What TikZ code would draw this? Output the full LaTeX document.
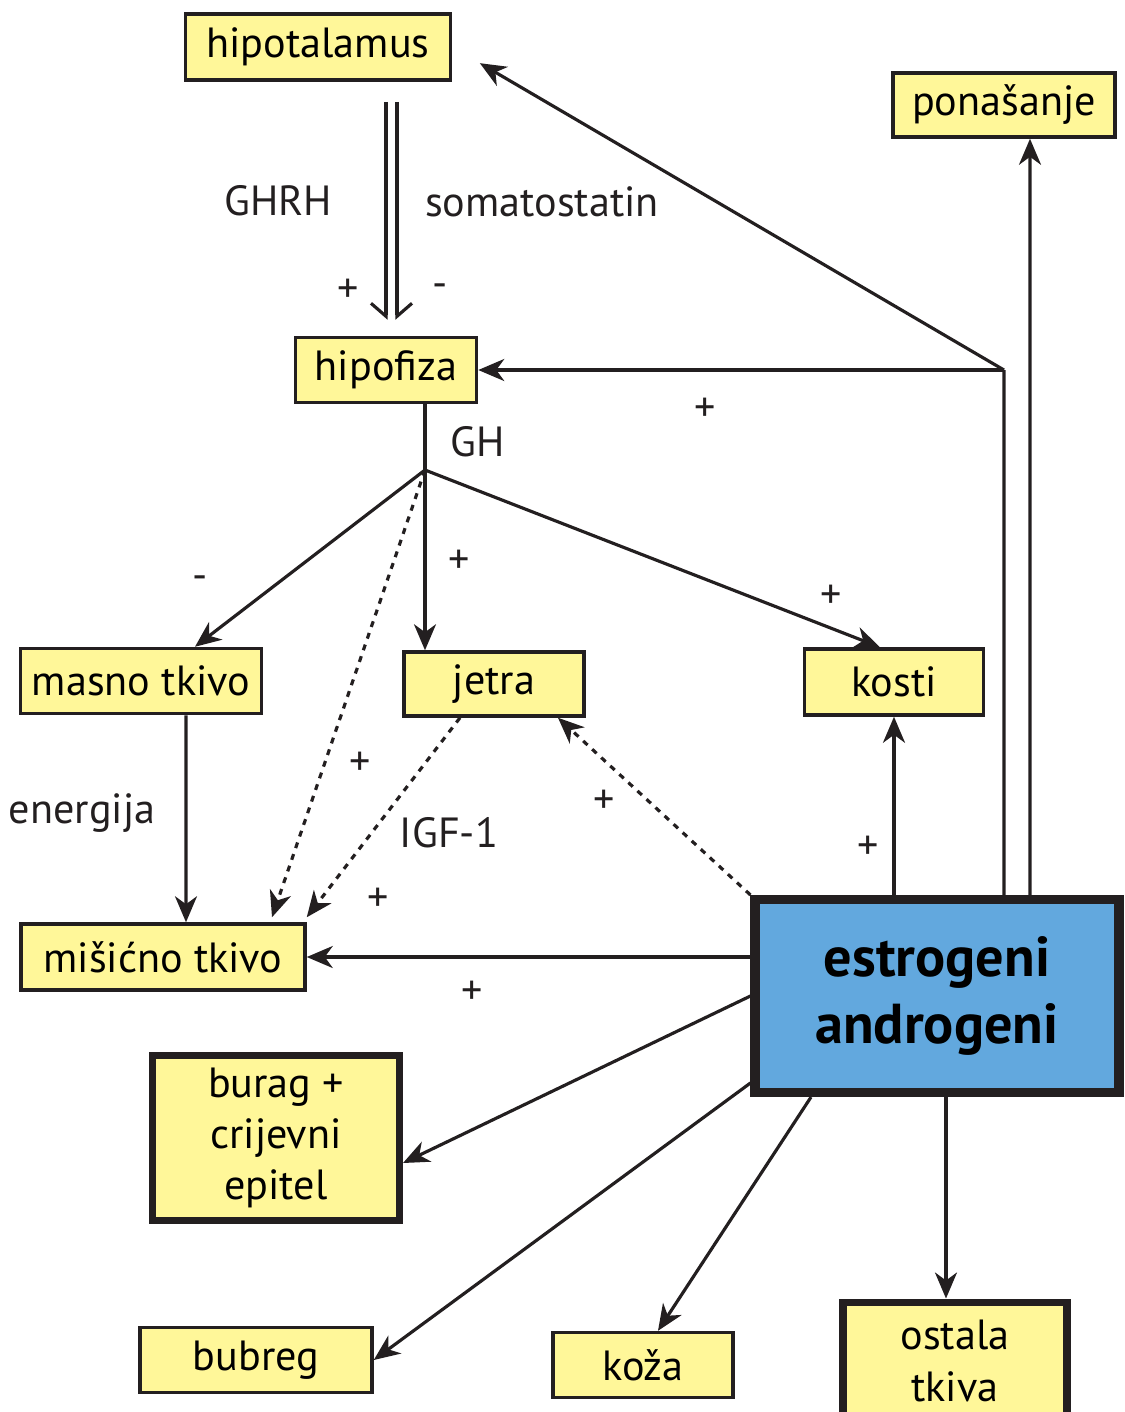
\documentclass[tikz,border=0pt]{standalone}
\usepackage{fontspec}
\setmainfont{PT Sans}
\usetikzlibrary{arrows.meta,positioning}
\definecolor{boxyellow}{RGB}{255,247,153}
\definecolor{boxblue}{RGB}{98,168,222}
\definecolor{inkgray}{RGB}{35,31,32}
\tikzset{
  organ/.style={draw=inkgray,line width=1pt,fill=boxyellow,inner sep=0pt,align=center,font=\fontsize{12}{14.6}\selectfont},
  bigorgan/.style={organ,line width=2pt},
  hormone/.style={organ,fill=boxblue,line width=2.6pt,font=\fontsize{16}{19}\selectfont\bfseries},
  link/.style={draw=inkgray,line width=0.9pt,-{Stealth[length=2.6mm,width=2.2mm,inset=0.8mm]}},
  weak/.style={link,dash pattern=on 1.7pt off 1.8pt},
  barb/.style={draw=inkgray,line width=0.9pt,shorten <=2mm,shorten >=1.6mm},
  lbl/.style={font=\fontsize{12}{14}\selectfont,text=inkgray,inner sep=0pt}
}
\begin{document}
\begin{tikzpicture}[x=0.1mm,y=-0.1mm]
\useasboundingbox (0,0) rectangle (1125,1412);
\clip (0,0) rectangle (1125,1412);
\node[organ,minimum width=26.5mm,minimum height=6.6mm] (hipotalamus) at (318,47) {hipotalamus};
\node[organ,minimum width=22.2mm,minimum height=6.4mm] (ponasanje) at (1004,105) {ponašanje};
\node[organ,minimum width=18.1mm,minimum height=6.5mm] (hipofiza) at (386,370) {hipofiza};
\node[organ,minimum width=24.1mm,minimum height=6.5mm] (masno) at (141,681) {masno tkivo};
\node[organ,minimum width=18mm,minimum height=6.4mm] (jetra) at (494,684) {jetra};
\node[organ,minimum width=17.9mm,minimum height=6.6mm] (kosti) at (894,682) {kosti};
\node[organ,minimum width=28.4mm,minimum height=6.6mm] (misicno) at (163,957) {mišićno tkivo};
\node[hormone,minimum width=36.4mm,minimum height=19.3mm] (hormoni) at (937,996) {estrogeni\\androgeni};
\node[bigorgan,minimum width=24.7mm,minimum height=16.5mm] (burag) at (276,1138) {burag +\\crijevni\\epitel};
\node[organ,minimum width=23.2mm,minimum height=6.5mm] (bubreg) at (256,1360) {bubreg};
\node[organ,minimum width=18mm,minimum height=6.5mm] (koza) at (643,1365) {koža};
\node[bigorgan,minimum width=22.4mm,minimum height=11.8mm] (ostala) at (955,1361) {ostala\\tkiva};
\coordinate (gh) at (425,470);
\coordinate (split) at (1004,370);
\draw[barb,-{Straight Barb[harpoon,swap,length=1.3mm,width=3mm]}] (hipotalamus.south -| hipofiza.north) -- (hipofiza.north);
\draw[barb,-{Straight Barb[harpoon,length=1.3mm,width=3mm]}] ([xshift=1.1mm]hipotalamus.south -| hipofiza.north) -- ([xshift=1.1mm]hipofiza.north);
\draw[draw=inkgray,line width=0.9pt] (hipofiza.south -| gh) -- (gh);
\draw[link] (gh) -- ([xshift=5.4mm]masno.north);
\draw[link] (gh) -- (gh |- jetra.north);
\draw[link] (gh) -- ([xshift=-1.4mm]kosti.north);
\draw[weak] (gh) -- ([xshift=10.9mm,yshift=0.5mm]misicno.north);
\draw[link] ([xshift=4.5mm]masno.south) -- ([xshift=2.3mm]misicno.north);
\draw[weak] ([xshift=-3.4mm]jetra.south) -- ([yshift=0.5mm]misicno.north east);
\draw[weak] (hormoni.north west) -- ([xshift=6.4mm]jetra.south);
\draw[link] (hormoni.north -| kosti.south) -- (kosti.south);
\draw[draw=inkgray,line width=0.9pt] ([xshift=6.7mm]hormoni.north) -- (split);
\draw[link] (split) -- (hipofiza.east);
\draw[link,shorten >=3.2mm] (split) -- (hipotalamus.east);
\draw[link] ([xshift=9.3mm]hormoni.north) -- ([xshift=2.6mm]ponasanje.south);
\draw[link] (hormoni.west |- misicno.east) -- (misicno.east);
\draw[link] (hormoni.west) -- ([yshift=-2.5mm]burag.east);
\draw[link] ([yshift=-8.7mm]hormoni.west) -- (bubreg.east);
\draw[link] ([xshift=-12.6mm]hormoni.south) -- ([xshift=1.5mm]koza.north);
\draw[link] ([xshift=0.9mm]hormoni.south) -- ([xshift=0.9mm]hormoni.south |- ostala.north);
\node[lbl] (ghrh) at (278,201) {GHRH};
\node[lbl] (somato) at (542,202) {somatostatin};
\node[lbl] (plusghrh) at (348,291) {+};
\node[lbl] (minussomato) at (440,291) {-};
\node[lbl] (plushipofiza) at (705,410) {+};
\node[lbl] (ghlbl) at (478,442) {GH};
\node[lbl] (minusmasno) at (200,583) {-};
\node[lbl] (plusjetra) at (459,562) {+};
\node[lbl] (pluskosti) at (831,597) {+};
\node[lbl] (plusghmis) at (360,764) {+};
\node[lbl] (energija) at (82,813) {energija};
\node[lbl] (plushormjetra) at (604,802) {+};
\node[lbl] (igf) at (449,833) {IGF-1};
\node[lbl] (plushormkosti) at (868,848) {+};
\node[lbl] (plusigf) at (378,900) {+};
\node[lbl] (plushormmis) at (472,993) {+};
\end{tikzpicture}
\end{document}
